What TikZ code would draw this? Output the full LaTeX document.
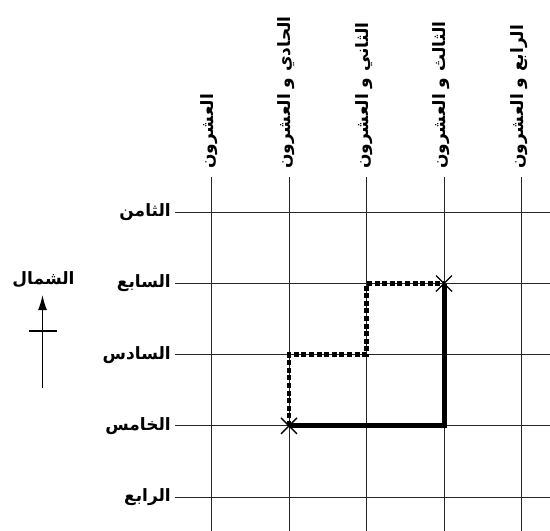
\documentclass[tikz,border=0pt]{standalone}
\usepackage{fontspec}
\newfontfamily\arabicfont[Script=Arabic]{DejaVu Sans}
\TeXXeTstate=1
\usetikzlibrary{arrows.meta,calc}
\tikzset{
  gridline/.style={line width=0.9pt, black!85},
  lbl/.style={font=\arabicfont\bfseries\fontsize{17}{19}\selectfont, inner sep=1pt},
  route/.style={line width=5pt},
  altroute/.style={line width=4.6pt, dash pattern=on 5pt off 2.6pt},
  xmark/.style={line width=1.3pt},
}
\begin{document}
\begin{tikzpicture}[x=1pt,y=-1pt]
\useasboundingbox (0,0) rectangle (550,531);
% grid coordinates
\foreach \n/\x in {a/211.5,b/289,c/366.5,d/444,e/521.5}{
  \coordinate (\n top) at (\x,177);
  \coordinate (\n bot) at (\x,531);
  \draw[gridline] (\n top) -- (\n bot);
}
\foreach \n/\y in {h8/212.3,h7/283.5,h6/354.7,h5/425.9,h4/497.1}{
  \coordinate (\n l) at (175,\y);
  \coordinate (\n r) at (550,\y);
  \draw[gridline] (\n l) -- (\n r);
}
% street labels (vertical)
\node[lbl, rotate=90, anchor=west] (s20) at (209,170) {\beginR العشرون\endR};
\node[lbl, rotate=90, anchor=west] (s21) at (286.5,170) {\beginR الحادي و العشرون\endR};
\node[lbl, rotate=90, anchor=west] (s22) at (364,170) {\beginR الثاني و العشرون\endR};
\node[lbl, rotate=90, anchor=west] (s23) at (441.5,170) {\beginR الثالث و العشرون\endR};
\node[lbl, rotate=90, anchor=west] (s24) at (519,170) {\beginR الرابع و العشرون\endR};
% avenue labels
\node[lbl, anchor=east] (a8) at ($(h8l)+(-3,0)$) {\beginR الثامن\endR};
\node[lbl, anchor=east] (a7) at ($(h7l)+(-3,0)$) {\beginR السابع\endR};
\node[lbl, anchor=east] (a6) at ($(h6l)+(-3,0)$) {\beginR السادس\endR};
\node[lbl, anchor=east] (a5) at ($(h5l)+(-3,0)$) {\beginR الخامس\endR};
\node[lbl, anchor=east] (a4) at ($(h4l)+(-3,0)$) {\beginR الرابع\endR};
% intersections
\coordinate (start) at (289,425.9);
\coordinate (corner) at (444,425.9);
\coordinate (goal) at (444,283.5);
\coordinate (p1) at (289,354.7);
\coordinate (p2) at (366.5,354.7);
\coordinate (p3) at (366.5,283.5);
% routes
\draw[route] (start) -- (corner) -- (goal);
\draw[altroute] (start) -- (p1) -- (p2) -- (p3) -- (goal);
% x marks
\foreach \c in {start,goal}{
  \draw[xmark] ($(\c)+(-8,-8)$) -- ($(\c)+(8,8)$);
  \draw[xmark] ($(\c)+(-8,8)$) -- ($(\c)+(8,-8)$);
}
% north arrow
\coordinate (nb) at (42.5,388);
\coordinate (nt) at (42.5,295);
\coordinate (cl) at (29,331);
\coordinate (cr) at (57,331);
\draw[line width=1.4pt, -{Latex[length=15pt,width=9pt]}] (nb) -- (nt);
\draw[line width=1.4pt] (cl) -- (cr);
\node[lbl, anchor=south] (north) at (43.5,289) {\beginR الشمال\endR};
\end{tikzpicture}
\end{document}
